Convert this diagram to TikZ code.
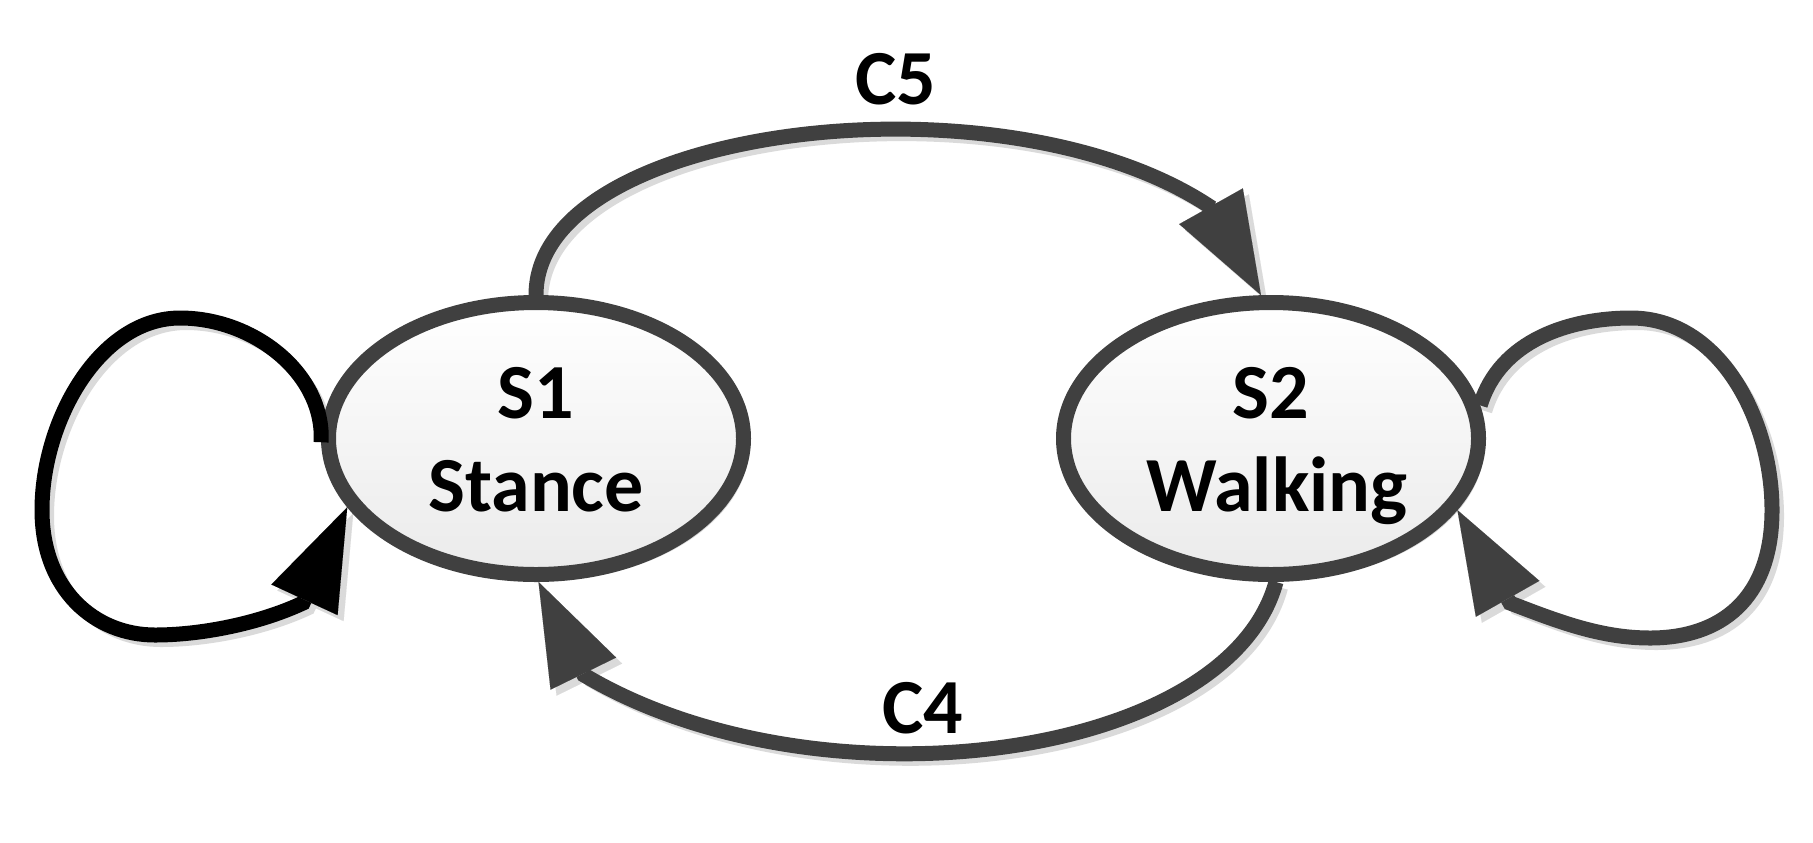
\documentclass[tikz,border=0pt]{standalone}
\usepackage{fontspec}
\setmainfont{Carlito}
\usetikzlibrary{arrows.meta,shapes.geometric,shadows,backgrounds}
\definecolor{edgegray}{HTML}{404040}
\definecolor{shadowgray}{HTML}{DADADA}
\tikzset{
  state/.style={ellipse, draw=edgegray, line width=7.5pt, inner sep=0pt,
    minimum width=207.5pt, minimum height=136pt,
    top color=white, bottom color=black!8,
    drop shadow={shadow xshift=3pt, shadow yshift=-3pt, fill=shadowgray, opacity=1}},
  lbl/.style={font=\bfseries\fontsize{39}{39}\selectfont, inner sep=0pt},
  bigtip/.style={-{Triangle[length=51pt,width=36.5pt,line width=0.01pt]}},
  edge/.style={draw=edgegray, line width=7.5pt, bigtip},
  loopk/.style={draw=black, line width=7.5pt, bigtip},
  shade/.style={draw=shadowgray, line width=6pt, transform canvas={shift={(3pt,-3pt)}}, bigtip}
}
\begin{document}
\begin{tikzpicture}[x=0.5pt, y=-0.5pt]
\useasboundingbox (0,0) rectangle (1813,842);

\node[state] (s1) at (536,438.5) {};
\node[state] (s2) at (1271,438.5) {};

\node[lbl, anchor=base] (s1n) at ([yshift=10.25pt]s1.center) {S1};
\node[lbl, anchor=base] (s1t) at ([yshift=-36.25pt]s1.center) {Stance};
\node[lbl, anchor=base] (s2n) at ([yshift=10.25pt]s2.center) {S2};
\node[lbl, anchor=base] (s2t) at ([xshift=3pt,yshift=-36.25pt]s2.center) {Walking};

\node[lbl, anchor=base] (c5) at (896,104) {C5};
\node[lbl, anchor=base] (c4) at (923,733) {C4};

\begin{scope}[on background layer]
  \draw[shade] (s1.90) .. controls (536,125) and (1004,68) .. (1212,208) -- (s2.94);
  \draw[shade] (s2.272) .. controls (1227,762) and (816,813) .. (584,675) -- (s1.271);
  \draw[shade] (s1.181) .. controls (325,375) and (255,318) .. (180,318)
     .. controls (100,318) and (42,420) .. (42,510)
     .. controls (42,590) and (95,635) .. (155,635)
     .. controls (200,635) and (258,624) .. (303,603) -- (s1.200);
  \draw[shade] (s2.9) .. controls (1500,340) and (1570,318) .. (1631,318)
     .. controls (1720,318) and (1772,420) .. (1772,510)
     .. controls (1772,600) and (1720,638) .. (1650,638)
     .. controls (1600,638) and (1557,621) .. (1510,603) -- (s2.339);
\end{scope}

\draw[edge] (s1.90) .. controls (536,125) and (1004,68) .. (1212,208) -- (s2.94);
\draw[edge] (s2.272) .. controls (1227,762) and (816,813) .. (584,675) -- (s1.271);
\draw[loopk] (s1.181) .. controls (325,375) and (255,318) .. (180,318)
   .. controls (100,318) and (42,420) .. (42,510)
   .. controls (42,590) and (95,635) .. (155,635)
   .. controls (200,635) and (258,624) .. (303,603) -- (s1.200);
\draw[edge] (s2.9) .. controls (1500,340) and (1570,318) .. (1631,318)
   .. controls (1720,318) and (1772,420) .. (1772,510)
   .. controls (1772,600) and (1720,638) .. (1650,638)
   .. controls (1600,638) and (1557,621) .. (1510,603) -- (s2.339);
\end{tikzpicture}
\end{document}
